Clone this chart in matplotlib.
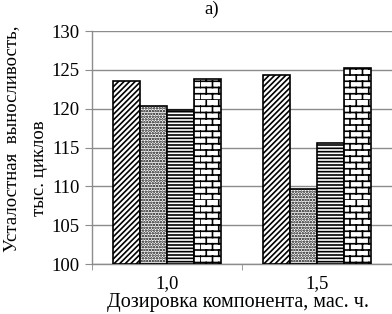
import warnings
import numpy as np
import matplotlib
matplotlib.use('Agg')
import matplotlib.pyplot as plt
import matplotlib.hatch as mhatch
from matplotlib.path import Path

warnings.filterwarnings('ignore')

# data
doses = ['1,0', '1,5']
series_a = [123.6, 124.3]
series_b = [120.4, 109.7]
series_c = [119.8, 115.6]
series_d = [123.8, 125.3]
yticks = [100, 105, 110, 115, 120, 125, 130]


# brick pattern as a custom hatch ('b')
class BrickHatch(mhatch.HatchPatternBase):
    def __init__(self, hatch, density):
        k = hatch.count('b')
        self.rows = 16 * k
        self.cols = 8 * k
        if k:
            self.num_vertices = 2 * self.rows + 2 * self.rows * self.cols
        else:
            self.num_vertices = 0

    def set_vertices_and_codes(self, vertices, codes):
        n, m = self.rows, self.cols
        i = 0
        for r in range(n):
            y = r / n
            vertices[i] = (0, y)
            vertices[i + 1] = (1, y)
            codes[i] = Path.MOVETO
            codes[i + 1] = Path.LINETO
            i += 2
        for r in range(n):
            off = 0.5 * (r % 2)
            for c in range(m):
                x = (c + off) / m
                vertices[i] = (x, r / n)
                vertices[i + 1] = (x, (r + 1) / n)
                codes[i] = Path.MOVETO
                codes[i + 1] = Path.LINETO
                i += 2


mhatch._hatch_types.append(BrickHatch)

plt.rcParams['font.family'] = ['Liberation Serif', 'DejaVu Serif']
plt.rcParams['hatch.linewidth'] = 1.2
plt.rcParams['hatch.color'] = 'black'

fs = 13.5
fig = plt.figure(figsize=(3.92, 3.14), dpi=100)
ax = fig.add_axes([0.235, 0.159, 0.765, 0.742])

x = np.arange(len(doses))
w = 0.181
series = [series_a, series_b, series_c, series_d]
hatches = ['//////', '......', '-----', 'b']
for k, (vals, h) in enumerate(zip(series, hatches)):
    ax.bar(x + (k - 1.5) * w, np.array(vals) - 100, bottom=100, width=w,
           color='white', edgecolor='black', linewidth=1.2, hatch=h, zorder=3)

ax.set_xlim(-0.5, 1.5)
ax.set_ylim(100, 130)
ax.set_yticks(yticks)
ax.set_yticklabels([str(t) for t in yticks], fontsize=fs)
ax.grid(axis='y', color='#8c8c8c', linewidth=1.0, zorder=0)
ax.set_axisbelow(True)

ax.set_xticks(x)
ax.set_xticklabels(doses, fontsize=fs)
ax.set_xticks([-0.5, 0.5, 1.5], minor=True)
ax.tick_params(axis='x', which='major', length=0, pad=8)
ax.tick_params(axis='x', which='minor', length=4, color='#8c8c8c', direction='out')
ax.tick_params(axis='y', length=5, color='#8c8c8c', pad=4)

for s in ['top', 'right']:
    ax.spines[s].set_visible(False)
for s in ['left', 'bottom']:
    ax.spines[s].set_color('#8c8c8c')
    ax.spines[s].set_linewidth(1.0)

fig.text(0.54, 0.97, 'а)', ha='center', va='center', fontsize=fs)
fig.text(0.607, 0.038, 'Дозировка компонента, мас. ч.', ha='center', va='center', fontsize=14.5)
fig.text(0.030, 0.557, 'Усталостная  выносливость,', rotation=90,
         ha='center', va='center', fontsize=fs)
fig.text(0.100, 0.465, 'тыс. циклов', rotation=90,
         ha='center', va='center', fontsize=fs)

fig.savefig('out.png', dpi=100)
